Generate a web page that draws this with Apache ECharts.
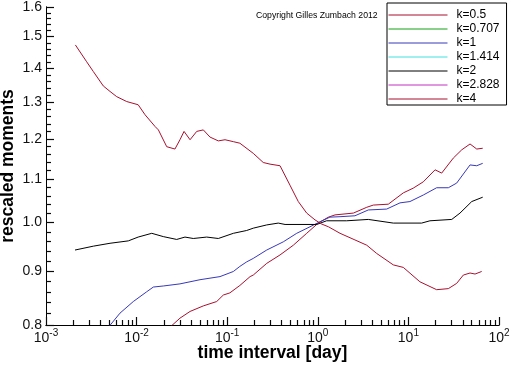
<!DOCTYPE html>
<html>
<head>
<meta charset="utf-8">
<script src="https://cdn.jsdelivr.net/npm/echarts@6/dist/echarts.min.js"></script>
<style>html,body{margin:0;padding:0;background:#fff}#c{width:512px;height:366px}</style>
</head>
<body>
<div id="c"></div>
<script>
// ---- data (time interval in days, rescaled moment) ----
const seriesNames = ['k=0.5', 'k=0.707', 'k=1', 'k=1.414', 'k=2', 'k=2.828', 'k=4'];

const k05T = [0.0215, 0.0301, 0.0389, 0.0545, 0.0766, 0.0906, 0.107, 0.138, 0.179, 0.194, 0.273, 0.383, 0.537, 0.754, 1.01, 1.31, 1.55, 2.47, 3.47, 4.10, 6.00, 8.79, 11.3, 14.6, 19.7, 23.3, 31.3, 38.8, 47.9, 56.8, 66.1];
const k05V = [0.791, 0.812, 0.824, 0.834, 0.842, 0.854, 0.858, 0.872, 0.889, 0.892, 0.915, 0.932, 0.952, 0.977, 0.999, 1.012, 1.017, 1.021, 1.034, 1.039, 1.041, 1.067, 1.078, 1.093, 1.122, 1.114, 1.151, 1.172, 1.187, 1.174, 1.176];

const k0707T = [];
const k0707V = [];

const k1T = [0.00471, 0.00656, 0.00920, 0.0129, 0.0153, 0.0197, 0.0301, 0.0501, 0.0833, 0.117, 0.138, 0.164, 0.194, 0.273, 0.416, 0.585, 0.820, 1.06, 1.36, 1.76, 2.57, 3.61, 5.76, 8.08, 10.4, 14.6, 20.5, 27.6, 34.1, 47.9, 56.8, 66.1];
const k1V = [0.793, 0.821, 0.842, 0.860, 0.869, 0.871, 0.875, 0.883, 0.889, 0.899, 0.909, 0.918, 0.925, 0.942, 0.959, 0.977, 0.991, 1.002, 1.012, 1.013, 1.015, 1.028, 1.030, 1.044, 1.047, 1.062, 1.079, 1.079, 1.090, 1.134, 1.132, 1.138];

const k1414T = [];
const k1414V = [];

const k2T = [0.00209, 0.00333, 0.00509, 0.00810, 0.0104, 0.0147, 0.0197, 0.0277, 0.0342, 0.0422, 0.0594, 0.0798, 0.117, 0.164, 0.194, 0.273, 0.366, 0.435, 0.973, 1.25, 2.08, 3.61, 6.81, 14.0, 17.3, 30.1, 37.1, 50.0, 66.1];
const k2V = [0.942, 0.950, 0.956, 0.961, 0.969, 0.977, 0.970, 0.964, 0.969, 0.966, 0.969, 0.966, 0.977, 0.983, 0.988, 0.995, 0.999, 0.996, 0.996, 1.004, 1.004, 1.007, 0.999, 0.999, 1.004, 1.007, 1.021, 1.047, 1.057];

const k2828T = [];
const k2828V = [];

const k4T = [0.00211, 0.00281, 0.00333, 0.00429, 0.00509, 0.00603, 0.00778, 0.0104, 0.0124, 0.0160, 0.0174, 0.0215, 0.0265, 0.0301, 0.0334, 0.0389, 0.0461, 0.0545, 0.0646, 0.0798, 0.0946, 0.117, 0.138, 0.194, 0.250, 0.297, 0.383, 0.493, 0.609, 0.754, 0.931, 1.10, 1.31, 1.76, 2.57, 3.47, 4.47, 6.81, 8.79, 13.4, 20.5, 27.6, 34.1, 40.4, 47.9, 54.4, 64.4];
const k4V = [1.473, 1.420, 1.390, 1.347, 1.331, 1.316, 1.302, 1.293, 1.265, 1.233, 1.224, 1.180, 1.174, 1.198, 1.220, 1.198, 1.220, 1.224, 1.205, 1.195, 1.198, 1.193, 1.189, 1.163, 1.140, 1.136, 1.132, 1.085, 1.047, 1.021, 1.006, 0.997, 0.991, 0.977, 0.963, 0.952, 0.935, 0.912, 0.907, 0.879, 0.864, 0.866, 0.876, 0.892, 0.896, 0.894, 0.899];

const xMajorTicks = [0.001, 0.01, 0.1, 1, 10, 100];
const xMinorTicks = [];
for (let e = -3; e < 2; e++) for (let m = 2; m <= 9; m++) xMinorTicks.push(+(m * Math.pow(10, e)).toPrecision(3));
const yMajorTicks = [0.8, 0.9, 1.0, 1.1, 1.2, 1.3, 1.4, 1.5, 1.6];
const yMinorTicks = [];
for (let i = 41; i < 80; i++) if (i % 5 !== 0) yMinorTicks.push(+(i * 0.02).toFixed(2));

// ---- styles ----
const FONT = 'Liberation Sans';
const colors = ['#a8102e', '#14a014', '#3838b8', '#40e0e0', '#000000', '#c030c0', '#a8102e'];
const allT = [k05T, k0707T, k1T, k1414T, k2T, k2828T, k4T];
const allV = [k05V, k0707V, k1V, k1414V, k2V, k2828V, k4V];

const series = seriesNames.map((name, i) => ({
  name: name,
  type: 'line',
  xAxisIndex: 0,
  yAxisIndex: 0,
  data: allT[i].map((t, j) => [t, allV[i][j]]),
  symbol: 'none',
  showSymbol: false,
  clip: true,
  color: colors[i],
  lineStyle: { color: colors[i], width: 1 },
  itemStyle: { color: colors[i] },
  emphasis: { disabled: true }
}));

function supLabel(v) {
  const e = Math.round(Math.log10(v));
  return '{b|10}{s|' + e + '}';
}

const TICK_COLOR = '#0a0a0a';
const hiddenSplit = () => ({ show: false });

const chart = echarts.init(document.getElementById('c'));
chart.setOption({
  animation: false,
  grid: { left: 46, right: 13, top: 7, bottom: 41, outerBoundsMode: 'none' },
  legend: {
    orient: 'vertical',
    left: 387,
    top: 3,
    padding: [6, 7, 0, 1],
    itemWidth: 59,
    itemHeight: 11,
    itemGap: 2,
    borderColor: '#000',
    borderWidth: 1,
    borderRadius: 0,
    backgroundColor: '#fff',
    selectedMode: false,
    itemStyle: { opacity: 0 },
    lineStyle: { width: 1 },
    textStyle: { fontFamily: FONT, fontSize: 12, lineHeight: 11, color: '#000', padding: [0, 0, 0, 4] },
    data: seriesNames
  },
  graphic: [{
    type: 'text',
    left: 256,
    top: 11,
    style: { text: 'Copyright Gilles Zumbach 2012', fontFamily: FONT, fontSize: 8.7, fill: '#000' }
  }],
  xAxis: [{
    type: 'log',
    min: 0.001,
    max: 100,
    position: 'bottom',
    name: 'time interval [day]',
    nameLocation: 'middle',
    nameGap: 19,
    nameMoveOverlap: false,
    nameTextStyle: { fontFamily: FONT, fontSize: 17.5, fontWeight: 'bold', color: '#000' },
    axisLine: { lineStyle: { color: '#000', width: 1 } },
    axisTick: { show: true, inside: true, length: 8, customValues: xMajorTicks, lineStyle: { color: TICK_COLOR, width: 1.2 } },
    axisLabel: {
      margin: 3, customValues: xMajorTicks, formatter: supLabel,
      color: '#111', fontFamily: FONT,
      rich: {
        b: { fontFamily: FONT, fontSize: 14, lineHeight: 20, color: '#111' },
        s: { fontFamily: FONT, fontSize: 10, lineHeight: 10, verticalAlign: 'top', color: '#111' }
      }
    },
    splitLine: hiddenSplit()
  }, {
    type: 'log',
    min: 0.001,
    max: 100,
    position: 'bottom',
    offset: 0,
    axisLine: { show: true, lineStyle: { color: '#000', width: 1 } },
    axisTick: { show: true, inside: true, length: 5, customValues: xMinorTicks, lineStyle: { color: TICK_COLOR, width: 1.2 } },
    axisLabel: { show: false },
    splitLine: hiddenSplit()
  }],
  yAxis: [{
    type: 'log',
    min: 0.8,
    max: 1.6,
    position: 'left',
    name: 'rescaled moments',
    nameLocation: 'middle',
    nameGap: 29,
    nameMoveOverlap: false,
    nameTextStyle: { fontFamily: FONT, fontSize: 17.5, fontWeight: 'bold', color: '#000' },
    axisLine: { show: true, lineStyle: { color: '#000', width: 1 } },
    axisTick: { show: true, inside: true, length: 8, customValues: yMajorTicks, lineStyle: { color: TICK_COLOR, width: 1.2 } },
    axisLabel: {
      margin: 4, customValues: yMajorTicks,
      formatter: v => v.toFixed(1), fontFamily: FONT, fontSize: 14, color: '#111'
    },
    splitLine: hiddenSplit()
  }, {
    type: 'log',
    min: 0.8,
    max: 1.6,
    position: 'left',
    offset: 0,
    axisLine: { show: true, lineStyle: { color: '#000', width: 1 } },
    axisTick: { show: true, inside: true, length: 5, customValues: yMinorTicks, lineStyle: { color: TICK_COLOR, width: 1.2 } },
    axisLabel: { show: false },
    splitLine: hiddenSplit()
  }],
  series: series
});
</script>
</body>
</html>
